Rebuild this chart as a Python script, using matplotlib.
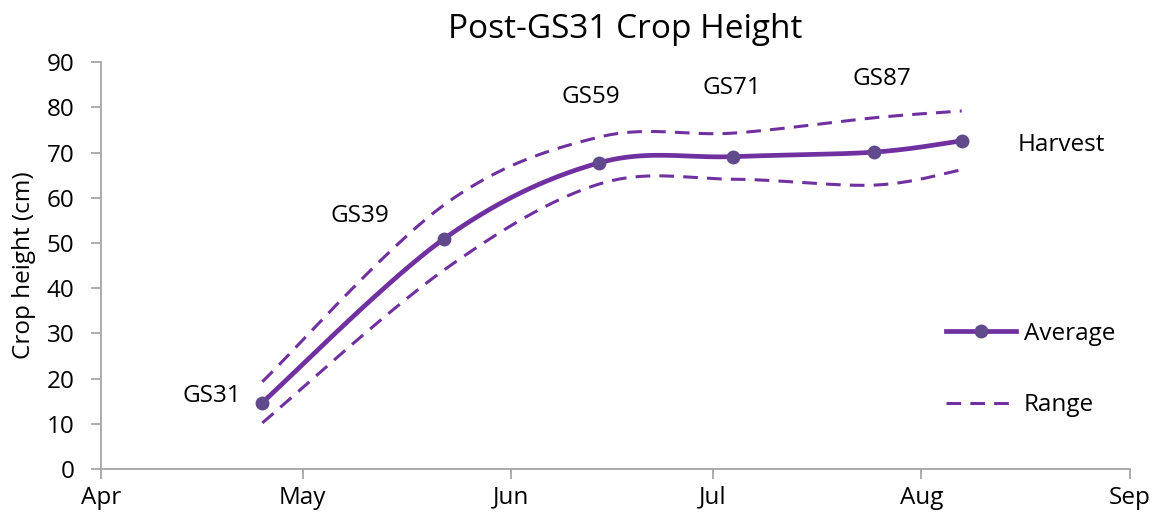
import numpy as np
import pandas as pd
import matplotlib
matplotlib.use("Agg")
import matplotlib.pyplot as plt
import matplotlib.dates as mdates
from matplotlib.lines import Line2D

# growth stage sampling dates and crop heights (cm)
stage_labels = ['GS31', 'GS39', 'GS59', 'GS71', 'GS87', 'Harvest']
sample_dates = ['2015-04-25', '2015-05-22', '2015-06-14', '2015-07-04', '2015-07-25', '2015-08-07']
avg_height = [14.7, 50.9, 67.7, 69.1, 70.1, 72.6]
upper_height = [19.3, 58.4, 73.4, 74.3, 77.7, 79.2]
lower_height = [10.2, 44.0, 63.0, 64.1, 62.8, 66.2]

# label offsets from each point, in pixels
label_offsets = [(-50, 7), (-84, 23), (-8, 66), (-1, 69), (8, 73), (100, -4)]

purple = '#7030A0'
marker_col = '#604A8C'
axis_col = '#A6A6A6'

plt.rcParams['font.family'] = ['Open Sans', 'DejaVu Sans']


def excel_smooth(x, y, sx, sy, n=40):
    # catmull-rom style bezier like excel's "smoothed line", done in screen-ish units
    px = np.asarray(x, float) * sx
    py = np.asarray(y, float) * sy
    pts = np.column_stack([px, py])
    ext = np.vstack([pts[0], pts, pts[-1]])
    out = []
    t = np.linspace(0, 1, n)[:, None]
    for i in range(len(pts) - 1):
        p0 = ext[i + 1]
        p3 = ext[i + 2]
        c1 = p0 + (ext[i + 2] - ext[i]) / 6.0
        c2 = p3 - (ext[i + 3] - ext[i + 1]) / 6.0
        seg = ((1 - t) ** 3) * p0 + 3 * ((1 - t) ** 2) * t * c1 + 3 * (1 - t) * t ** 2 * c2 + t ** 3 * p3
        out.append(seg if i == 0 else seg[1:])
    out = np.vstack(out)
    return out[:, 0] / sx, out[:, 1] / sy


dates = pd.to_datetime(sample_dates)
xnum = mdates.date2num(dates)

fig = plt.figure(figsize=(11.54, 5.17), dpi=100)
ax = fig.add_axes([0.0875, 0.0928, 0.8915, 0.787])

x0 = mdates.date2num(pd.Timestamp('2015-04-01'))
x1 = mdates.date2num(pd.Timestamp('2015-09-01'))
sx = 1030.0 / (x1 - x0)
sy = 407.0 / 90.0

dash = (4.8, 3.0)
for series in (upper_height, lower_height):
    xs, ys = excel_smooth(xnum, series, sx, sy)
    ax.plot(xs, ys, color=purple, lw=2.2, linestyle=(0, dash), zorder=2)

xs, ys = excel_smooth(xnum, avg_height, sx, sy)
ax.plot(xs, ys, color=purple, lw=3.4, solid_capstyle='round', zorder=3)
ax.plot(xnum, avg_height, 'o', color=marker_col, markersize=10, markeredgewidth=0, zorder=4)

for lab, xv, yv, off in zip(stage_labels, xnum, avg_height, label_offsets):
    ax.annotate(lab, (xv, yv), xytext=off, textcoords='offset pixels',
                ha='center', va='center', fontsize=17.5, color='black')

ax.set_xlim(x0, x1)
ax.set_ylim(0, 90)
ax.set_yticks(np.arange(0, 91, 10))
month_ticks = pd.date_range('2015-04-01', '2015-09-01', freq='MS')
ax.set_xticks(mdates.date2num(month_ticks))
ax.set_xticklabels([d.strftime('%b') for d in month_ticks])

for s in ['top', 'right']:
    ax.spines[s].set_visible(False)
for s in ['left', 'bottom']:
    ax.spines[s].set_color(axis_col)
    ax.spines[s].set_linewidth(1.3)
ax.tick_params(axis='both', colors=axis_col, labelcolor='black', labelsize=17.5,
               length=7, width=1.3, direction='out')
ax.tick_params(axis='x', pad=5)
ax.tick_params(axis='y', pad=12)
ax.set_ylabel('Crop height (cm)', fontsize=17.5, labelpad=8)
fig.suptitle('Post-GS31 Crop Height', fontsize=24, x=0.542, y=0.975)

handles = [Line2D([], [], color=purple, lw=3.4, marker='o', markersize=10,
                  markerfacecolor=marker_col, markeredgewidth=0),
           Line2D([], [], color=purple, lw=2.2, linestyle=(0, dash))]
ax.legend(handles, ['Average', 'Range'], loc='center left', bbox_to_anchor=(0.8, 0.245),
          frameon=False, fontsize=17.5, handlelength=2.9, labelspacing=1.95, handletextpad=0.3)

fig.savefig('out.png', dpi=100)
